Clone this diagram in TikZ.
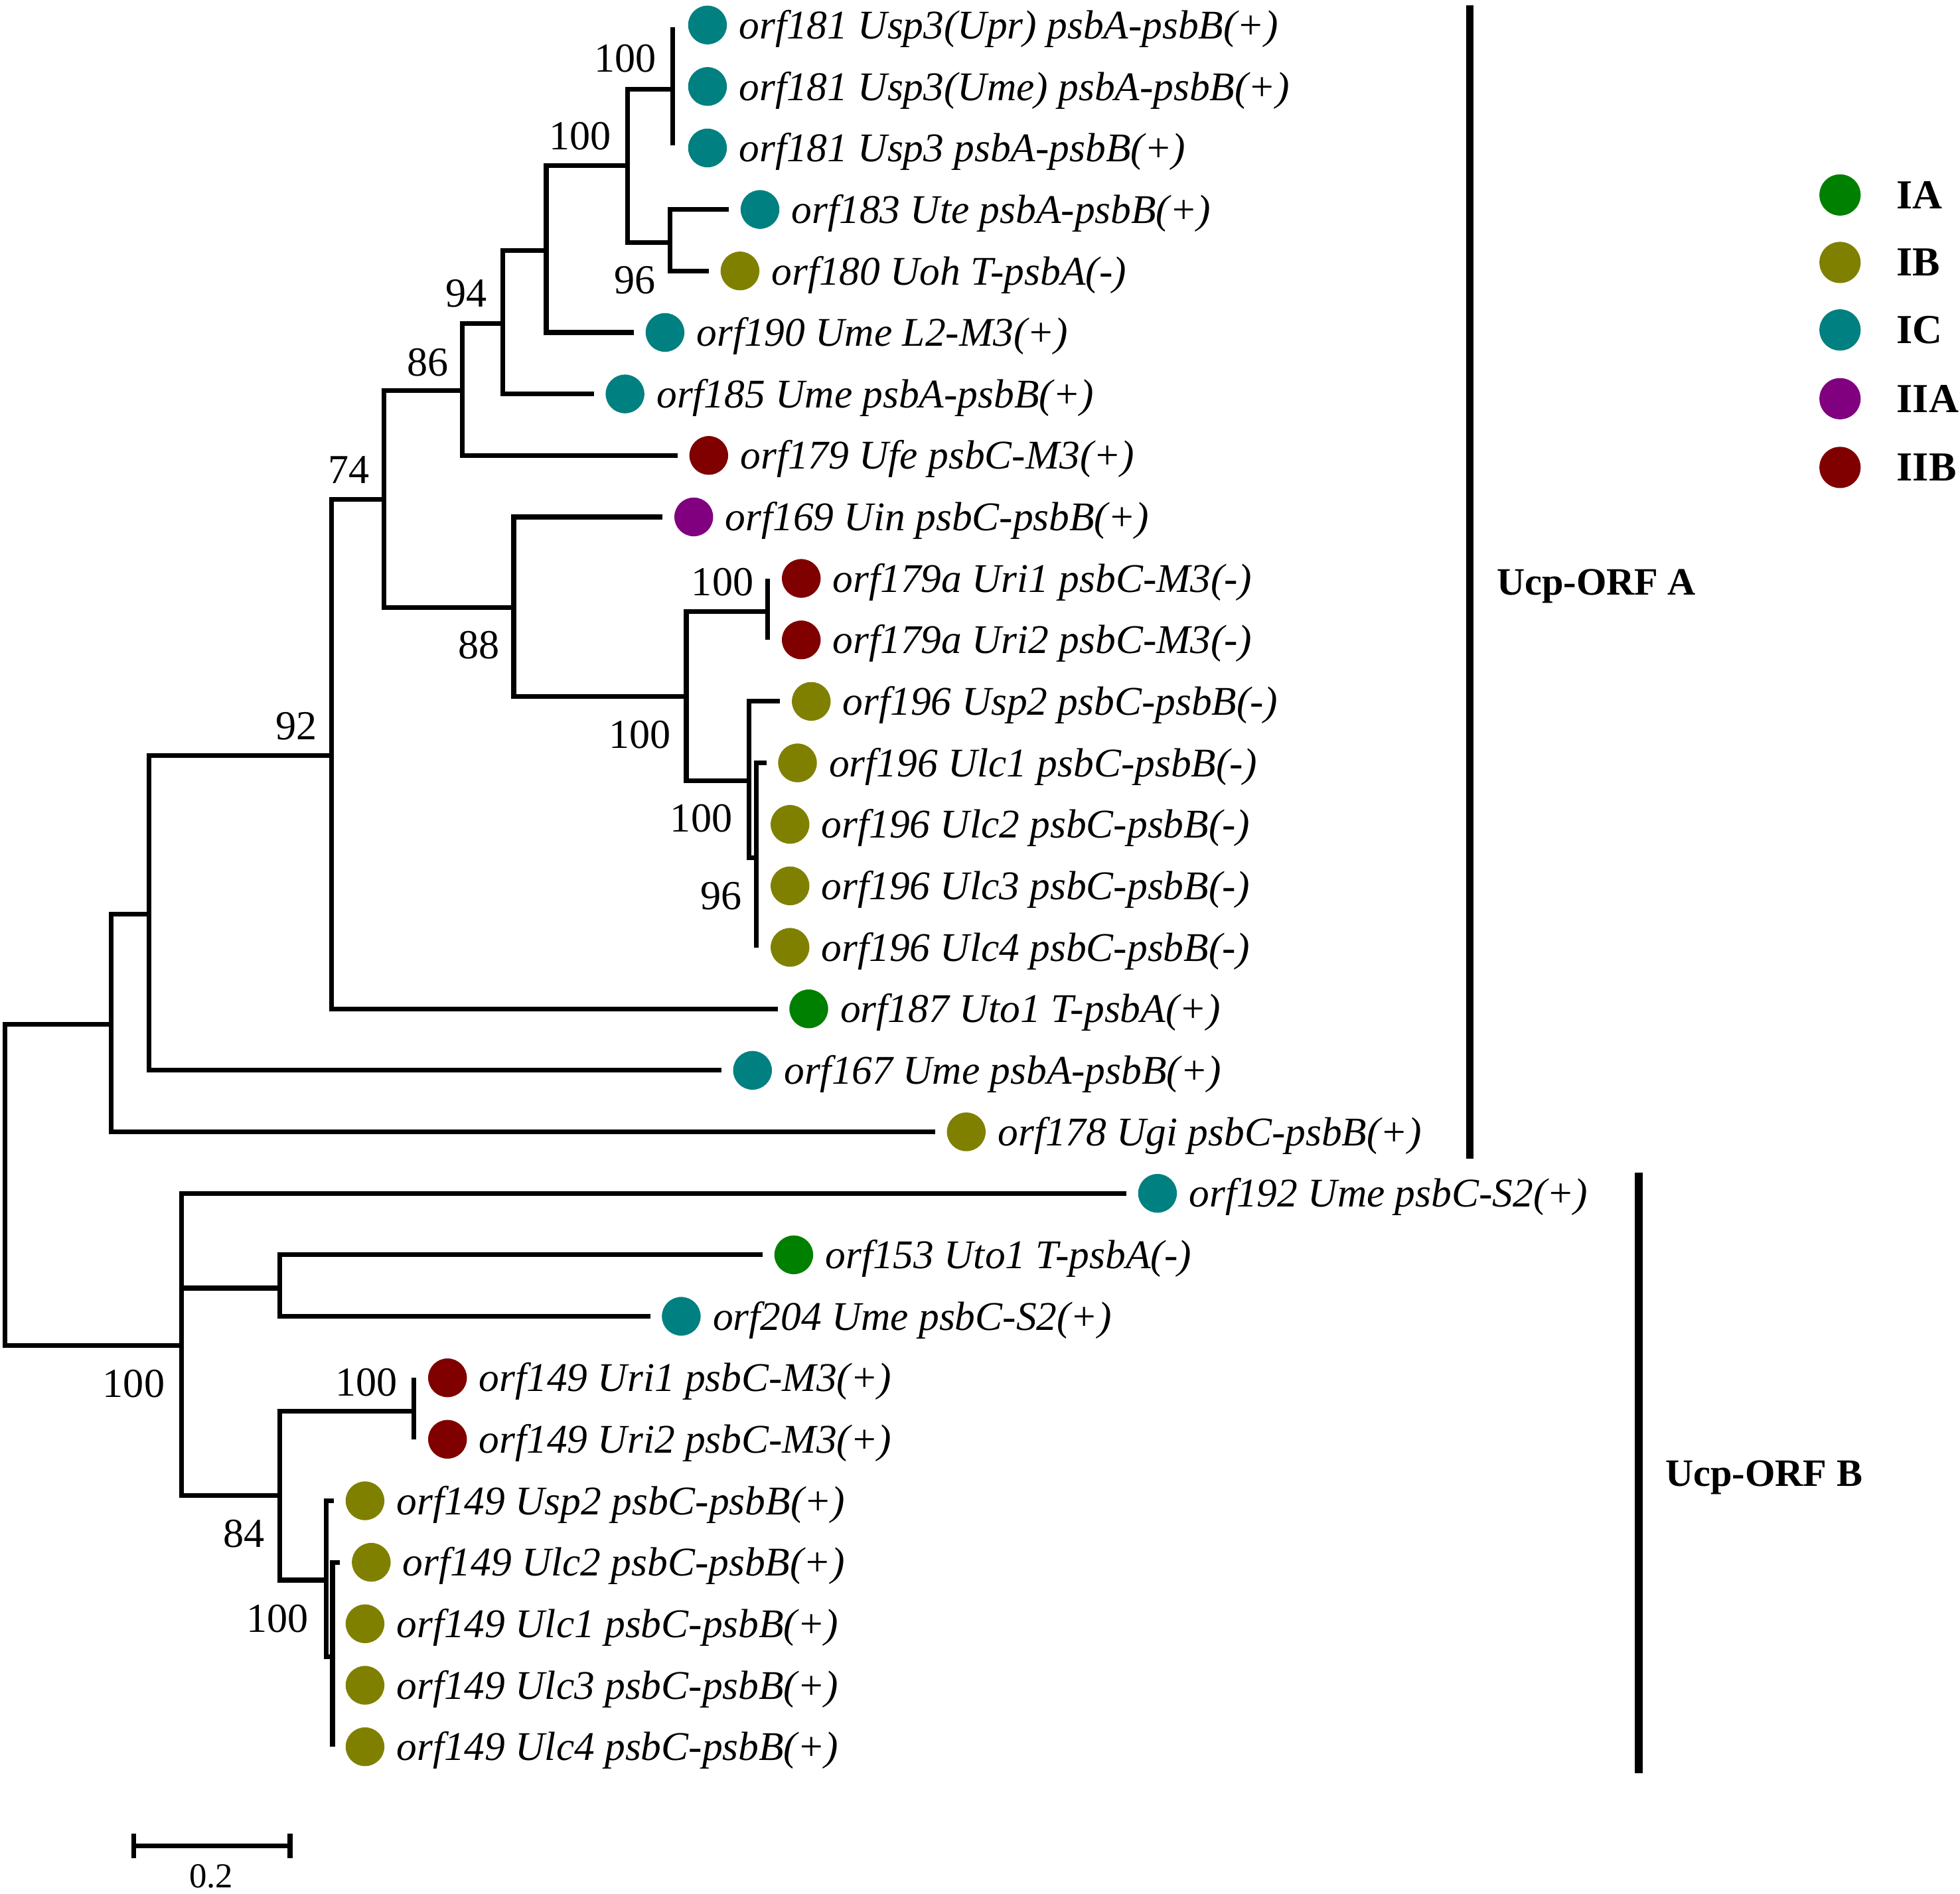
\documentclass[tikz,border=0pt]{standalone}
\usepackage{fontspec}
\setmainfont{Liberation Serif}
\definecolor{cIA}{HTML}{008000}
\definecolor{cIB}{HTML}{808000}
\definecolor{cIC}{HTML}{008080}
\definecolor{cIIA}{HTML}{800080}
\definecolor{cIIB}{HTML}{800000}
\tikzset{
  br/.style={line width=1.9pt, line join=miter},
  tipbr/.style={br, shorten >=4.5pt},
  tipdot/.style={circle, minimum size=15.5pt, inner sep=0pt, fill=#1},
  legdot/.style={circle, minimum size=16.5pt, inner sep=0pt, fill=#1},
  lab/.style={anchor=base west, inner sep=0pt, font=\fontsize{16.3}{18}\selectfont\itshape},
  sup/.style={inner sep=0pt, font=\fontsize{16.5}{18}\selectfont},
  scl/.style={inner sep=0pt, font=\fontsize{14}{16}\selectfont},
  grp/.style={anchor=base west, inner sep=0pt, font=\fontsize{15.5}{18}\selectfont\bfseries},
  leg/.style={anchor=west, inner sep=0pt, font=\fontsize{16.5}{18}\selectfont\bfseries},
  grpbar/.style={line width=3pt},
}
\newcommand{\tiplab}[2]{\node[lab] (l#1) at ([xshift=4.5pt,yshift=-5.5pt]t#1.east) {#2};}
\begin{document}
\begin{tikzpicture}[x=0.5pt,y=-0.5pt]
\useasboundingbox (0,0) rectangle (1568,1515);
% ---------- tips ----------
\node[tipdot=cIC]  (t1)  at (566,20) {};
\node[tipdot=cIC]  (t2)  at (566,69.2) {};
\node[tipdot=cIC]  (t3)  at (566,118.4) {};
\node[tipdot=cIC]  (t4)  at (608,167.6) {};
\node[tipdot=cIB]  (t5)  at (592,216.8) {};
\node[tipdot=cIC]  (t6)  at (532,266) {};
\node[tipdot=cIC]  (t7)  at (500,315.2) {};
\node[tipdot=cIIB] (t8)  at (567,364.4) {};
\node[tipdot=cIIA] (t9)  at (555,413.6) {};
\node[tipdot=cIIB] (t10) at (641,462.8) {};
\node[tipdot=cIIB] (t11) at (641,512) {};
\node[tipdot=cIB]  (t12) at (649,561.2) {};
\node[tipdot=cIB]  (t13) at (638,610.4) {};
\node[tipdot=cIB]  (t14) at (632,659.6) {};
\node[tipdot=cIB]  (t15) at (632,708.8) {};
\node[tipdot=cIB]  (t16) at (632,758) {};
\node[tipdot=cIA]  (t17) at (647,807.2) {};
\node[tipdot=cIC]  (t18) at (602,856.4) {};
\node[tipdot=cIB]  (t19) at (773,905.6) {};
\node[tipdot=cIC]  (t20) at (926,954.8) {};
\node[tipdot=cIA]  (t21) at (635,1004) {};
\node[tipdot=cIC]  (t22) at (545,1053.2) {};
\node[tipdot=cIIB] (t23) at (358,1102.4) {};
\node[tipdot=cIIB] (t24) at (358,1151.6) {};
\node[tipdot=cIB]  (t25) at (292,1200.8) {};
\node[tipdot=cIB]  (t26) at (297,1250) {};
\node[tipdot=cIB]  (t27) at (292,1299.2) {};
\node[tipdot=cIB]  (t28) at (292,1348.4) {};
\node[tipdot=cIB]  (t29) at (292,1397.6) {};
% ---------- tip labels ----------
\tiplab{1}{orf181 Usp3(Upr) psbA-psbB(+)}
\tiplab{2}{orf181 Usp3(Ume) psbA-psbB(+)}
\tiplab{3}{orf181 Usp3 psbA-psbB(+)}
\tiplab{4}{orf183 Ute psbA-psbB(+)}
\tiplab{5}{orf180 Uoh T-psbA(-)}
\tiplab{6}{orf190 Ume L2-M3(+)}
\tiplab{7}{orf185 Ume psbA-psbB(+)}
\tiplab{8}{orf179 Ufe psbC-M3(+)}
\tiplab{9}{orf169 Uin psbC-psbB(+)}
\tiplab{10}{orf179a Uri1 psbC-M3(-)}
\tiplab{11}{orf179a Uri2 psbC-M3(-)}
\tiplab{12}{orf196 Usp2 psbC-psbB(-)}
\tiplab{13}{orf196 Ulc1 psbC-psbB(-)}
\tiplab{14}{orf196 Ulc2 psbC-psbB(-)}
\tiplab{15}{orf196 Ulc3 psbC-psbB(-)}
\tiplab{16}{orf196 Ulc4 psbC-psbB(-)}
\tiplab{17}{orf187 Uto1 T-psbA(+)}
\tiplab{18}{orf167 Ume psbA-psbB(+)}
\tiplab{19}{orf178 Ugi psbC-psbB(+)}
\tiplab{20}{orf192 Ume psbC-S2(+)}
\tiplab{21}{orf153 Uto1 T-psbA(-)}
\tiplab{22}{orf204 Ume psbC-S2(+)}
\tiplab{23}{orf149 Uri1 psbC-M3(+)}
\tiplab{24}{orf149 Uri2 psbC-M3(+)}
\tiplab{25}{orf149 Usp2 psbC-psbB(+)}
\tiplab{26}{orf149 Ulc2 psbC-psbB(+)}
\tiplab{27}{orf149 Ulc1 psbC-psbB(+)}
\tiplab{28}{orf149 Ulc3 psbC-psbB(+)}
\tiplab{29}{orf149 Ulc4 psbC-psbB(+)}
% ---------- internal nodes ----------
\coordinate (root) at (4,948.1);
\coordinate (nA1) at (89,819.5);
\coordinate (nA2) at (119,731.35);
\coordinate (nA3) at (265,604.3);
\coordinate (nA4) at (307,399.45);
\coordinate (nA5) at (370,312.6);
\coordinate (nA6) at (402,258.8);
\coordinate (nA7) at (437,200.35);
\coordinate (nA8) at (502,132.7);
\coordinate (nA9) at (538,71.2);
\coordinate (nA10) at (536,194.2);
\coordinate (nC1) at (411,486.3);
\coordinate (nC2) at (549,557.05);
\coordinate (nC3) at (614,489.4);
\coordinate (nC4) at (599,624.7);
\coordinate (nC5) at (605,686.2);
\coordinate (nB) at (145,1076.7);
\coordinate (nB2) at (224,1030.6);
\coordinate (nB3) at (224,1196.65);
\coordinate (nB4) at (331,1129);
\coordinate (nB5) at (261,1264.3);
\coordinate (nB6) at (266,1325.8);
% ---------- branches ----------
\draw[br] (root) |- (nA1);
\draw[br] (root) |- (nB);
\draw[br] (nA1) |- (nA2);
\draw[tipbr] (nA1) |- (t19.west);
\draw[br] (nA2) |- (nA3);
\draw[tipbr] (nA2) |- (t18.west);
\draw[br] (nA3) |- (nA4);
\draw[tipbr] (nA3) |- (t17.west);
\draw[br] (nA4) |- (nA5);
\draw[br] (nA4) |- (nC1);
\draw[br] (nA5) |- (nA6);
\draw[tipbr] (nA5) |- (t8.west);
\draw[br] (nA6) |- (nA7);
\draw[tipbr] (nA6) |- (t7.west);
\draw[br] (nA7) |- (nA8);
\draw[tipbr] (nA7) |- (t6.west);
\draw[br] (nA8) |- (nA9);
\draw[br] (nA8) |- (nA10);
\draw[br] (nA9) -- ([yshift=-1pt]nA9 |- t1.center);
\draw[br] (nA9) -- ([yshift=1pt]nA9 |- t3.center);
\draw[tipbr] (nA10) |- (t4.west);
\draw[tipbr] (nA10) |- (t5.west);
\draw[tipbr] (nC1) |- (t9.west);
\draw[br] (nC1) |- (nC2);
\draw[br] (nC2) |- (nC3);
\draw[br] (nC2) |- (nC4);
\draw[br] (nC3) -- (nC3 |- t10.center);
\draw[br] (nC3) -- (nC3 |- t11.center);
\draw[tipbr] (nC4) |- (t12.west);
\draw[br] (nC4) |- (nC5);
\draw[tipbr] (nC5) |- (t13.west);
\draw[br] (nC5) -- (nC5 |- t16.center);
\draw[tipbr] (nB) |- (t20.west);
\draw[br] (nB) |- (nB2);
\draw[br] (nB) |- (nB3);
\draw[tipbr] (nB2) |- (t21.west);
\draw[tipbr] (nB2) |- (t22.west);
\draw[br] (nB3) |- (nB4);
\draw[br] (nB3) |- (nB5);
\draw[br] (nB4) -- (nB4 |- t23.center);
\draw[br] (nB4) -- (nB4 |- t24.center);
\draw[tipbr] (nB5) |- (t25.west);
\draw[br] (nB5) |- (nB6);
\draw[tipbr] (nB6) |- (t26.west);
\draw[br] (nB6) -- (nB6 |- t29.center);
% ---------- support values ----------
\node[sup] (s1) at (500,47) {100};
\node[sup] (s2) at (464,109) {100};
\node[sup] (s3) at (508,224) {96};
\node[sup] (s4) at (373,235) {94};
\node[sup] (s5) at (342,290) {86};
\node[sup] (s6) at (279,376) {74};
\node[sup] (s7) at (383,516) {88};
\node[sup] (s8) at (578,466) {100};
\node[sup] (s9) at (512,588) {100};
\node[sup] (s10) at (561,655) {100};
\node[sup] (s11) at (577,717) {96};
\node[sup] (s12) at (237,581) {92};
\node[sup] (s13) at (107,1107) {100};
\node[sup] (s14) at (293,1106) {100};
\node[sup] (s15) at (195,1227) {84};
\node[sup] (s16) at (222,1295) {100};
% ---------- group bars ----------
\coordinate (gAt) at (1176,4);
\coordinate (gAb) at (1176,927);
\coordinate (gBt) at (1311,938);
\coordinate (gBb) at (1311,1419);
\draw[grpbar] (gAt) -- (gAb);
\draw[grpbar] (gBt) -- (gBb);
\node[grp] (gA) at (1197,476) {Ucp-ORF A};
\node[grp] (gB) at (1332,1189) {Ucp-ORF B};
% ---------- legend ----------
\node[legdot=cIA]  (k1) at (1472,156) {};
\node[legdot=cIB]  (k2) at (1472,210) {};
\node[legdot=cIC]  (k3) at (1472,264) {};
\node[legdot=cIIA] (k4) at (1472,319) {};
\node[legdot=cIIB] (k5) at (1472,374) {};
\node[leg] (kl1) at (1517,156) {IA};
\node[leg] (kl2) at (1517,210) {IB};
\node[leg] (kl3) at (1517,264) {IC};
\node[leg] (kl4) at (1517,319) {IIA};
\node[leg] (kl5) at (1517,374) {IIB};
% ---------- scale bar ----------
\coordinate (sbL) at (107,1477);
\coordinate (sbR) at (232,1477);
\draw[br] (sbL) -- (sbR);
\draw[br] ([yshift=5pt]sbL) -- ([yshift=-5pt]sbL);
\draw[br] ([yshift=5pt]sbR) -- ([yshift=-5pt]sbR);
\node[scl] (sbt) at (169,1501) {0.2};
\end{tikzpicture}
\end{document}
